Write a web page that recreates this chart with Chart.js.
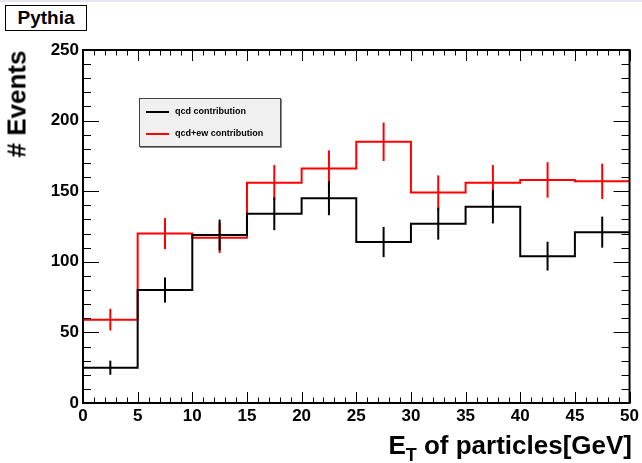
<!DOCTYPE html>
<html>
<head>
<meta charset="utf-8">
<script src="https://cdn.jsdelivr.net/npm/chart.js@4/dist/chart.umd.min.js"></script>
<style>
  html, body { margin:0; padding:0; background:#fff; }
  #wrap { position:relative; width:642px; height:463px; overflow:hidden; background:#fff; }
  #band { position:absolute; left:0; top:0; width:642px; height:2px; background:#e6e6f2; }
  #c { position:absolute; left:0; top:0; }
  .lbl { position:absolute; font-family:"Liberation Sans", Arial, sans-serif; font-weight:bold; color:#000; white-space:nowrap; }
  #pythia { left:5px; top:5px; width:80px; height:24px; border:1px solid #000; font-size:19px; line-height:24px; text-align:center; background:#fff; }
  #ytitle { left:17px; top:104px; font-size:26px; transform:translate(-50%,-50%) rotate(-90deg); }
  #xtitle { right:10px; top:430px; font-size:26px; line-height:30px; }
  #xtitle sub { font-size:18px; vertical-align:-7px; line-height:0; }
  #legend { left:139px; top:98px; width:140px; height:47px; border:1px solid #444; background:#f0f0f0; box-shadow:1px 1px 0 #888; }
  .row { position:absolute; left:6px; height:10px; font-size:9px; line-height:10px; }
  .row span.ln { display:inline-block; width:23px; height:0; border-top:2px solid #000; vertical-align:middle; margin-right:6px; }
</style>
</head>
<body>
<div id="wrap">
  <canvas id="c" width="642" height="463"></canvas>
  <div id="band"></div>
  <div id="pythia" class="lbl">Pythia</div>
  <div id="ytitle" class="lbl"># Events</div>
  <div id="xtitle" class="lbl">E<sub>T</sub> of particles[GeV]</div>
  <div id="legend" class="lbl">
    <div class="row" style="top:7px;"><span class="ln" style="border-color:#000"></span>qcd contribution</div>
    <div class="row" style="top:29px;"><span class="ln" style="border-color:#ff0000"></span>qcd+ew contribution</div>
  </div>
</div>
<script>
// Bin low edges (GeV), bin width 5
const binEdges = [0, 5, 10, 15, 20, 25, 30, 35, 40, 45];
const binWidth = 5;
// qcd contribution
const qcdValues = [25, 80, 119, 134, 145, 114, 127, 139, 104, 121];
const qcdErrors = [5.0, 8.9, 10.9, 11.6, 12.0, 10.7, 11.3, 11.8, 10.2, 11.0];
// qcd+ew contribution
const ewValues = [59, 120, 117, 156, 166, 185, 149, 156, 158, 157];
const ewErrors = [7.7, 11.0, 10.8, 12.5, 12.9, 13.6, 12.2, 12.5, 12.6, 12.5];
const xTicks = [0, 5, 10, 15, 20, 25, 30, 35, 40, 45, 50];
const yTicks = [0, 50, 100, 150, 200, 250];

function stepPoints(vals) {
  const pts = binEdges.map((e, i) => ({ x: e, y: vals[i] }));
  pts.push({ x: binEdges[binEdges.length - 1] + binWidth, y: vals[vals.length - 1] });
  return pts;
}

const errorBars = {
  id: 'errorBars',
  afterDatasetsDraw(chart) {
    const ctx = chart.ctx, xs = chart.scales.x, ys = chart.scales.y;
    for (let d = chart.data.datasets.length - 1; d >= 0; d--) {
      const ds = chart.data.datasets[d];
      ctx.save();
      ctx.strokeStyle = ds.borderColor;
      ctx.lineWidth = 2;
      ds.values.forEach((v, i) => {
        const cx = xs.getPixelForValue(binEdges[i] + binWidth / 2);
        ctx.beginPath();
        ctx.moveTo(cx, ys.getPixelForValue(v - ds.errors[i]));
        ctx.lineTo(cx, ys.getPixelForValue(v + ds.errors[i]));
        ctx.stroke();
      });
      ctx.restore();
    }
  }
};

const frameTicks = {
  id: 'frameTicks',
  afterDraw(chart) {
    const ctx = chart.ctx, xs = chart.scales.x, ys = chart.scales.y;
    const a = chart.chartArea;
    ctx.save();
    ctx.strokeStyle = '#000';
    ctx.lineWidth = 1;
    ctx.beginPath();
    for (let v = 0; v <= 250; v += 10) {
      const y = Math.round(ys.getPixelForValue(v)) + 0.5;
      const len = (v % 50 === 0) ? 16 : 8;
      ctx.moveTo(a.left, y); ctx.lineTo(a.left + len, y);
      ctx.moveTo(a.right, y); ctx.lineTo(a.right - len, y);
    }
    for (let v = 0; v <= 50; v += 1) {
      const x = Math.round(xs.getPixelForValue(v)) + 0.5;
      const len = (v % 5 === 0) ? 11 : 5.5;
      ctx.moveTo(x, a.bottom); ctx.lineTo(x, a.bottom - len);
      ctx.moveTo(x, a.top); ctx.lineTo(x, a.top + len);
    }
    ctx.stroke();
    ctx.lineWidth = 2;
    ctx.strokeRect(a.left, a.top, a.right - a.left, a.bottom - a.top);
    ctx.restore();
  }
};

const font = { family: '"Liberation Sans", Arial, sans-serif', weight: 'bold', size: 17 };

new Chart(document.getElementById('c'), {
  type: 'line',
  data: {
    datasets: [
      { label: 'qcd contribution', data: stepPoints(qcdValues), values: qcdValues, errors: qcdErrors,
        borderColor: '#000000', borderWidth: 2, stepped: true, pointRadius: 0, fill: false },
      { label: 'qcd+ew contribution', data: stepPoints(ewValues), values: ewValues, errors: ewErrors,
        borderColor: '#ff0000', borderWidth: 2, stepped: true, pointRadius: 0, fill: false }
    ]
  },
  options: {
    responsive: false,
    animation: false,
    devicePixelRatio: 1,
    layout: { padding: { top: 50, right: 10, left: 0, bottom: 0 } },
    plugins: { legend: { display: false }, tooltip: { enabled: false } },
    scales: {
      x: {
        type: 'linear', min: 0, max: 50,
        afterFit(s) { s.height = 60; },
        afterBuildTicks(s) { s.ticks = xTicks.map(v => ({ value: v })); },
        grid: { display: false, drawTicks: false },
        border: { display: false },
        ticks: { font, color: '#000', padding: 3, maxRotation: 0, autoSkip: false }
      },
      y: {
        type: 'linear', min: 0, max: 250,
        afterFit(s) { s.width = 83; },
        afterBuildTicks(s) { s.ticks = yTicks.map(v => ({ value: v })); },
        grid: { display: false, drawTicks: false },
        border: { display: false },
        ticks: { font, color: '#000', padding: 4, autoSkip: false }
      }
    }
  },
  plugins: [errorBars, frameTicks]
});
</script>
</body>
</html>
